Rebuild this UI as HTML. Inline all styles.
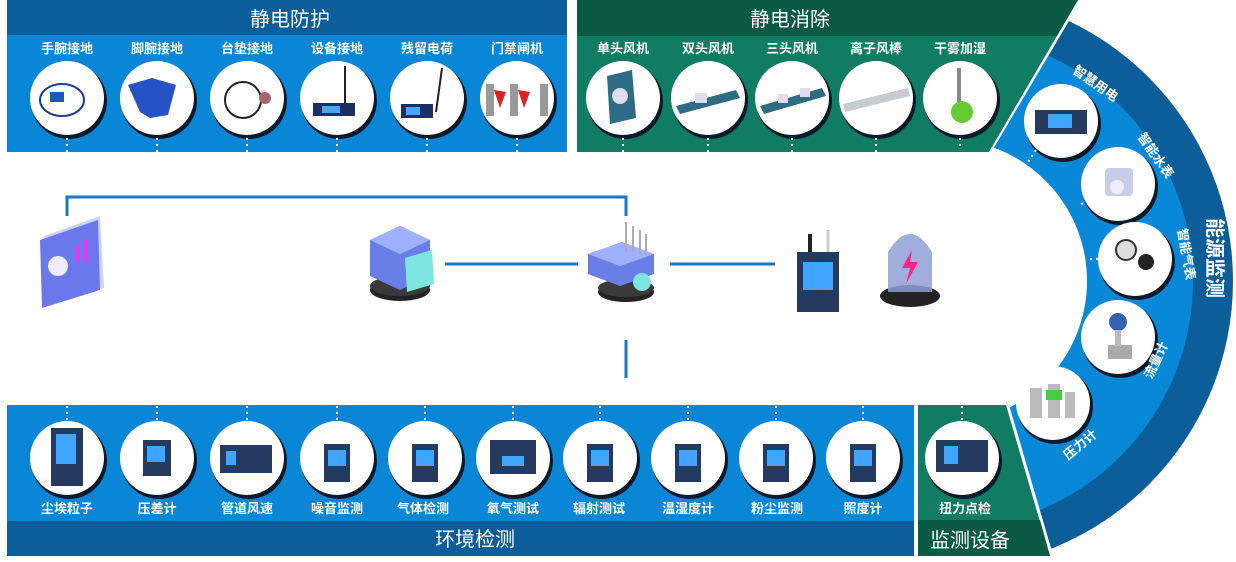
<!DOCTYPE html>
<html><head><meta charset="utf-8">
<style>
html,body{margin:0;padding:0;background:#fff;}
svg{display:block;}
text{font-family:"Liberation Sans","Noto Sans CJK SC",sans-serif;fill:#fff;}
.lb{font-size:13px;font-weight:bold;text-anchor:middle;}
.tt{font-size:20px;text-anchor:middle;}
.wm{font-size:15px;fill:#ececec;font-family:"Liberation Serif","Noto Serif CJK SC",serif;font-weight:bold;}
</style></head>
<body>
<svg width="1236" height="562" viewBox="0 0 1236 562" xmlns="http://www.w3.org/2000/svg">
<defs>
  <clipPath id="ringclip"><polygon points="1079,0 1236,0 1236,562 1053,562 971,281 913,281"/></clipPath>
  <g id="circ">
    <circle cx="2" cy="3" r="38" fill="#0a1a2a"/>
    <circle cx="0" cy="0" r="37" fill="#fff"/>
  </g>
</defs>

<g class="wm">
  <text x="170" y="212">XWESD 兴万达</text><text x="355" y="212">XWESD 兴万达</text><text x="540" y="212">XWESD 兴万达</text><text x="725" y="212">XWESD 兴万达</text><text x="910" y="212">XWESD 兴万达</text>
  <text x="115" y="274">XWESD 兴万达</text><text x="300" y="274">XWESD 兴万达</text><text x="480" y="274">XWESD 兴万达</text><text x="850" y="274">XWESD 兴万达</text>
  <text x="170" y="336">XWESD 兴万达</text><text x="540" y="336">XWESD 兴万达</text><text x="725" y="336">XWESD 兴万达</text><text x="910" y="336">XWESD 兴万达</text>
  <text x="115" y="398">XWESD 兴万达</text><text x="300" y="398">XWESD 兴万达</text><text x="480" y="398">XWESD 兴万达</text><text x="665" y="398">XWESD 兴万达</text>
</g>

<g clip-path="url(#ringclip)">
  <circle cx="945" cy="281" r="288" fill="#0b5e99"/>
  <circle cx="945" cy="281" r="248" fill="#0a88d8"/>
  <circle cx="945" cy="281" r="142" fill="#fff"/>
</g>
<line x1="991" y1="150" x2="913" y2="281" stroke="#fff" stroke-width="4"/>
<line x1="971" y1="281" x2="1006" y2="402" stroke="#fff" stroke-width="4"/>
<line x1="1079" y1="0" x2="989" y2="152" stroke="#fff" stroke-width="4"/>
<line x1="1007" y1="405" x2="1053" y2="562" stroke="#fff" stroke-width="4"/>

<rect x="7" y="0" width="560" height="152" fill="#0987d6"/>
<rect x="7" y="0" width="560" height="35" fill="#0b5e99"/>
<text class="tt" x="290" y="26">静电防护</text>

<polygon points="577,0 1078,0 989,152 577,152" fill="#0f7c63"/>
<polygon points="577,0 1078,0 1057,36 577,36" fill="#0b5a45"/>
<text class="tt" x="790" y="26">静电消除</text>

<rect x="7" y="405" width="907" height="151" fill="#0987d6"/>
<rect x="7" y="521" width="907" height="35" fill="#0b5e99"/>
<text class="tt" x="475" y="546">环境检测</text>

<polygon points="918,405 1006,405 1050,556 918,556" fill="#0f7c63"/>
<polygon points="918,520 1040,520 1050,556 918,556" fill="#0b5a45"/>
<text class="tt" x="970" y="547">监测设备</text>

<g class="lb">
  <text x="67" y="53">手腕接地</text><text x="157" y="53">脚腕接地</text><text x="247" y="53">台垫接地</text>
  <text x="337" y="53">设备接地</text><text x="427" y="53">残留电荷</text><text x="517" y="53">门禁闸机</text>
  <text x="623" y="53">单头风机</text><text x="708" y="53">双头风机</text><text x="792" y="53">三头风机</text>
  <text x="876" y="53">离子风棒</text><text x="960" y="53">干雾加湿</text>
</g>
<g>
  <use href="#circ" x="67" y="98"/><use href="#circ" x="157" y="98"/><use href="#circ" x="247" y="98"/>
  <use href="#circ" x="337" y="98"/><use href="#circ" x="427" y="98"/><use href="#circ" x="517" y="98"/>
  <use href="#circ" x="623" y="98"/><use href="#circ" x="708" y="98"/><use href="#circ" x="792" y="98"/>
  <use href="#circ" x="876" y="98"/><use href="#circ" x="960" y="98"/>
</g>
<ellipse cx="62" cy="100" rx="22" ry="16" fill="none" stroke="#1a3b9a" stroke-width="2"/>
<rect x="50" y="92" width="14" height="10" fill="#2452c0"/>
<polygon points="128,85 152,78 176,85 168,115 150,118 140,112" fill="#2652c4"/>
<circle cx="243" cy="100" r="18" fill="none" stroke="#222" stroke-width="2"/><circle cx="265" cy="98" r="6" fill="#a66"/>
<line x1="345" y1="66" x2="345" y2="104" stroke="#222" stroke-width="2"/><rect x="313" y="103" width="42" height="13" fill="#1c2f63"/><rect x="322" y="106" width="18" height="7" fill="#4aa3ff"/>
<line x1="442" y1="68" x2="436" y2="112" stroke="#222" stroke-width="2"/><rect x="401" y="104" width="32" height="14" fill="#1c2f63"/><rect x="406" y="107" width="14" height="8" fill="#4aa3ff"/>
<rect x="486" y="84" width="8" height="32" fill="#999"/><rect x="510" y="84" width="8" height="32" fill="#999"/><rect x="540" y="84" width="8" height="32" fill="#999"/>
<polygon points="494,90 506,92 500,108" fill="#d22"/><polygon points="518,90 530,92 524,108" fill="#d22"/>
<polygon points="607,76 632,70 636,118 610,124" fill="#2e6b85"/><circle cx="620" cy="96" r="8" fill="#dde"/>
<polygon points="676,106 736,90 740,98 680,114" fill="#2e6b85"/><rect x="695" y="93" width="12" height="10" fill="#dde"/>
<polygon points="760,106 822,88 826,96 764,114" fill="#2e6b85"/><rect x="778" y="94" width="10" height="9" fill="#dde"/><rect x="800" y="88" width="10" height="9" fill="#dde"/>
<polygon points="843,104 908,88 910,96 845,112" fill="#c8ccd0"/>
<rect x="957" y="68" width="4" height="34" fill="#888"/><circle cx="962" cy="112" r="11" fill="#6c3"/>

<g stroke="#fff" stroke-width="2" stroke-dasharray="2,4">
  <line x1="67" y1="138" x2="67" y2="152"/><line x1="157" y1="138" x2="157" y2="152"/><line x1="247" y1="138" x2="247" y2="152"/>
  <line x1="337" y1="138" x2="337" y2="152"/><line x1="427" y1="138" x2="427" y2="152"/><line x1="517" y1="138" x2="517" y2="152"/>
  <line x1="623" y1="138" x2="623" y2="152"/><line x1="708" y1="138" x2="708" y2="152"/><line x1="792" y1="138" x2="792" y2="152"/>
  <line x1="876" y1="138" x2="876" y2="152"/><line x1="960" y1="138" x2="960" y2="148"/>
</g>

<g>
  <use href="#circ" x="67" y="458"/><use href="#circ" x="157" y="458"/><use href="#circ" x="247" y="458"/>
  <use href="#circ" x="337" y="458"/><use href="#circ" x="425" y="458"/><use href="#circ" x="513" y="458"/>
  <use href="#circ" x="600" y="458"/><use href="#circ" x="688" y="458"/><use href="#circ" x="776" y="458"/>
  <use href="#circ" x="863" y="458"/><use href="#circ" x="962" y="458"/>
</g>
<g fill="#243a5e">
  <rect x="51" y="428" width="32" height="58"/><rect x="143" y="440" width="28" height="36"/><rect x="220" y="445" width="52" height="28"/>
  <rect x="324" y="444" width="26" height="38"/><rect x="412" y="444" width="26" height="38"/><rect x="490" y="440" width="46" height="34"/>
  <rect x="587" y="444" width="26" height="38"/><rect x="675" y="444" width="26" height="38"/><rect x="763" y="444" width="26" height="38"/>
  <rect x="850" y="444" width="26" height="38"/><rect x="936" y="440" width="52" height="32"/>
</g>
<g fill="#3fa5ff">
  <rect x="56" y="434" width="20" height="30"/><rect x="147" y="446" width="18" height="16"/><rect x="226" y="451" width="10" height="14"/>
  <rect x="328" y="450" width="18" height="16"/><rect x="416" y="450" width="18" height="16"/><rect x="502" y="456" width="22" height="10"/>
  <rect x="591" y="450" width="18" height="16"/><rect x="679" y="450" width="18" height="16"/><rect x="767" y="450" width="18" height="16"/>
  <rect x="854" y="450" width="18" height="16"/><rect x="944" y="446" width="14" height="18"/>
</g>
<g class="lb">
  <text x="67" y="513">尘埃粒子</text><text x="157" y="513">压差计</text><text x="247" y="513">管道风速</text>
  <text x="337" y="513">噪音监测</text><text x="423" y="513">气体检测</text><text x="513" y="513">氧气测试</text>
  <text x="599" y="513">辐射测试</text><text x="688" y="513">温湿度计</text><text x="777" y="513">粉尘监测</text>
  <text x="863" y="513">照度计</text><text x="965" y="513">扭力点检</text>
</g>
<g stroke="#fff" stroke-width="2" stroke-dasharray="2,4">
  <line x1="67" y1="406" x2="67" y2="420"/><line x1="157" y1="406" x2="157" y2="420"/><line x1="247" y1="406" x2="247" y2="420"/>
  <line x1="337" y1="406" x2="337" y2="420"/><line x1="425" y1="406" x2="425" y2="420"/><line x1="513" y1="406" x2="513" y2="420"/>
  <line x1="600" y1="406" x2="600" y2="420"/><line x1="688" y1="406" x2="688" y2="420"/><line x1="776" y1="406" x2="776" y2="420"/>
  <line x1="863" y1="406" x2="863" y2="420"/><line x1="962" y1="406" x2="962" y2="420"/>
</g>

<g>
  <use href="#circ" x="1061" y="121"/><use href="#circ" x="1118" y="184"/><use href="#circ" x="1135" y="259"/>
  <use href="#circ" x="1118" y="337"/><use href="#circ" x="1053" y="403"/>
</g>
<rect x="1035" y="110" width="52" height="24" fill="#243a5e"/><rect x="1048" y="114" width="24" height="14" fill="#3fa5ff"/>
<rect x="1105" y="168" width="28" height="28" rx="4" fill="#c8cde8"/><circle cx="1117" cy="187" r="7" fill="#eef"/>
<circle cx="1126" cy="250" r="10" fill="#ddd" stroke="#333" stroke-width="2"/><circle cx="1146" cy="262" r="8" fill="#222"/>
<rect x="1108" y="345" width="24" height="14" fill="#aaa"/><circle cx="1118" cy="322" r="9" fill="#3362b0"/><rect x="1115" y="330" width="6" height="16" fill="#bbb"/>
<rect x="1030" y="388" width="12" height="30" fill="#bbb"/><rect x="1048" y="384" width="12" height="34" fill="#bbb"/><rect x="1065" y="392" width="10" height="26" fill="#bbb"/>
<rect x="1046" y="390" width="16" height="10" fill="#4c4"/>
<g stroke="#fff" stroke-width="2" stroke-dasharray="2,4">
  <line x1="1036" y1="150" x2="1028" y2="162"/><line x1="1088" y1="200" x2="1078" y2="206"/><line x1="1098" y1="259" x2="1086" y2="259"/>
  <line x1="1082" y1="312" x2="1074" y2="308"/><line x1="1028" y1="372" x2="1020" y2="364"/>
</g>
<g class="lb" font-size="14">
  <text transform="translate(1093,87) rotate(35)">智慧用电</text>
  <text transform="translate(1152,158) rotate(55)">智能水表</text>
  <text transform="translate(1182,255) rotate(80)">智能气表</text>
  <text transform="translate(1160,362) rotate(-65)">流量计</text>
  <text transform="translate(1083,448) rotate(-40)">压力计</text>
</g>
<text transform="translate(1208,258) rotate(90)" font-size="20" text-anchor="middle" font-weight="bold">能源监测</text>

<g stroke="#1a78c8" stroke-width="3" fill="none">
  <polyline points="67,216 67,197 626,197 626,216"/>
  <line x1="445" y1="264" x2="578" y2="264"/>
  <line x1="670" y1="264" x2="775" y2="264"/>
  <line x1="626" y1="340" x2="626" y2="378"/>
</g>
<polygon points="44,236 100,216 104,288 46,306" fill="#c9d4fb"/>
<polygon points="40,240 98,220 100,290 42,308" fill="#6b78ec"/>
<circle cx="58" cy="266" r="10" fill="#eef"/><rect x="76" y="246" width="4" height="16" fill="#e3e"/><rect x="84" y="240" width="4" height="22" fill="#e3e"/>
<ellipse cx="400" cy="290" rx="30" ry="11" fill="#222"/><ellipse cx="400" cy="286" rx="30" ry="10" fill="#3a3a3a"/>
<polygon points="370,240 400,226 430,240 430,276 400,290 370,276" fill="#6a7ee8"/>
<polygon points="370,240 400,226 430,240 400,254" fill="#9eb0ff"/>
<polygon points="405,258 432,250 434,284 407,292" fill="#7ee6e0"/>
<ellipse cx="626" cy="292" rx="28" ry="10" fill="#222"/><ellipse cx="626" cy="288" rx="28" ry="9" fill="#3a3a3a"/>
<polygon points="588,254 622,242 654,254 654,274 620,286 588,274" fill="#6a7ee8"/>
<polygon points="588,254 622,242 654,254 620,266" fill="#9eb0ff"/>
<g stroke="#aab" stroke-width="2"><line x1="626" y1="222" x2="626" y2="252"/><line x1="633" y1="226" x2="633" y2="252"/><line x1="640" y1="230" x2="640" y2="254"/><line x1="646" y1="234" x2="646" y2="256"/></g>
<circle cx="642" cy="282" r="9" fill="#7ee6e0"/>
<rect x="797" y="252" width="42" height="60" fill="#243a5e"/><rect x="803" y="262" width="30" height="28" fill="#3fa5ff"/>
<line x1="810" y1="234" x2="810" y2="252" stroke="#222" stroke-width="4"/><line x1="828" y1="230" x2="828" y2="252" stroke="#ccc" stroke-width="3"/>
<ellipse cx="910" cy="296" rx="30" ry="11" fill="#222"/>
<path d="M888 292 L888 252 Q910 216 932 252 L932 292 Z" fill="#8fa0d8" opacity="0.85"/>
<polygon points="912,250 902,268 910,268 906,284 918,262 910,262" fill="#f28"/>
</svg>
</body></html>
